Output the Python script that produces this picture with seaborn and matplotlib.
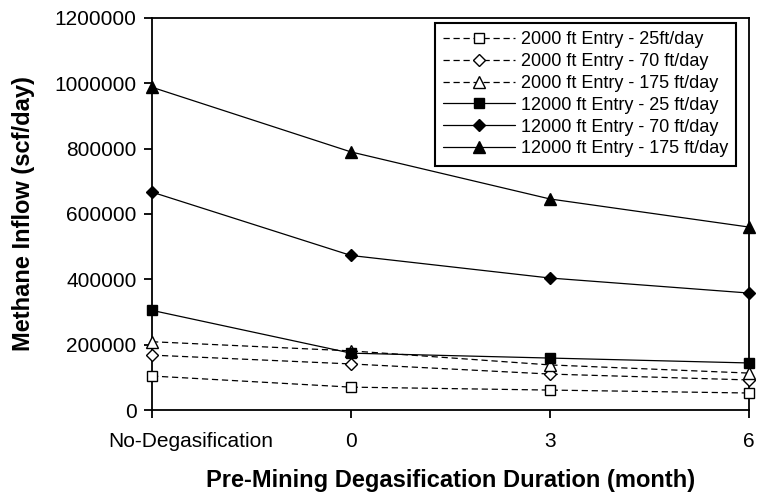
import matplotlib
matplotlib.use("Agg")
import matplotlib.pyplot as plt
import matplotlib.transforms as mtransforms
import seaborn as sns
import pandas as pd
import numpy as np

categories = ["No-Degasification", "0", "3", "6"]
s2000_25 = [104000, 70000, 61000, 52000]
s2000_70 = [168000, 141000, 110000, 92000]
s2000_175 = [209000, 181000, 138000, 113000]
s12000_25 = [305000, 174000, 159000, 144000]
s12000_70 = [667000, 473000, 404000, 358000]
s12000_175 = [988000, 790000, 646000, 560000]

labels = ["2000 ft Entry - 25ft/day", "2000 ft Entry - 70 ft/day", "2000 ft Entry - 175 ft/day",
          "12000 ft Entry - 25 ft/day", "12000 ft Entry - 70 ft/day", "12000 ft Entry - 175 ft/day"]
series = [s2000_25, s2000_70, s2000_175, s12000_25, s12000_70, s12000_175]
markers = ["s", "D", "^", "s", "D", "^"]
msizes = [7, 6, 8, 7, 6, 8]
filled = [False, False, False, True, True, True]

sns.set_theme(style="white")
plt.rcParams['font.family'] = ['Liberation Sans', 'DejaVu Sans']
plt.rcParams['text.color'] = 'black'
plt.rcParams['axes.labelcolor'] = 'black'

fig = plt.figure(figsize=(7.58, 4.94), dpi=100)
ax = fig.add_axes([152/758, 1 - 410/494, (749-152)/758, (410-18)/494])

xpos = np.arange(len(categories))
for lab, vals, m, ms, f in zip(labels, series, markers, msizes, filled):
    df = pd.DataFrame({"x": xpos, "y": vals})
    sns.lineplot(data=df, x="x", y="y", ax=ax, color="black", lw=0.9,
                 linestyle="-" if f else (0, (5, 3)),
                 marker=m, markersize=ms, markeredgecolor="black",
                 markerfacecolor="black" if f else "white", markeredgewidth=1.0,
                 label=lab, clip_on=False, zorder=3)

ax.set_xlim(0, 3)
ax.set_ylim(0, 1200000)
ax.set_xticks(xpos)
ax.set_xticklabels(categories)
ax.set_yticks(np.arange(0, 1200001, 200000))
ax.set_yticklabels([str(v) for v in range(0, 1200001, 200000)])
for s in ax.spines.values():
    s.set_color("black")
    s.set_linewidth(1.3)
ax.tick_params(axis="both", which="both", direction="out", length=6, width=1.3,
               color="black", labelsize=15, labelcolor="black",
               left=True, bottom=True)
ax.tick_params(axis="y", pad=5)
ax.tick_params(axis="x", pad=10)
# first category label sits to the right of its tick in the reference
first = ax.get_xticklabels()[0]
first.set_transform(first.get_transform() +
                    mtransforms.ScaledTranslation(39/100, 0, fig.dpi_scale_trans))

ax.set_xlabel("Pre-Mining Degasification Duration (month)", fontsize=17,
              fontweight="bold", labelpad=13, color="black")
ax.set_ylabel("Methane Inflow (scf/day)", fontsize=17, fontweight="bold",
              labelpad=14, color="black")
ax.grid(False)

leg = ax.legend(loc="upper right", bbox_to_anchor=((736-152)/597, (410-23)/392),
                borderaxespad=0, fontsize=13, labelcolor="black", framealpha=1,
                frameon=True, fancybox=False, edgecolor="black", handlelength=4.0,
                handletextpad=0.3, labelspacing=0.27, borderpad=0.45)
leg.get_frame().set_linewidth(1.5)

fig.savefig("out.png", dpi=100)
